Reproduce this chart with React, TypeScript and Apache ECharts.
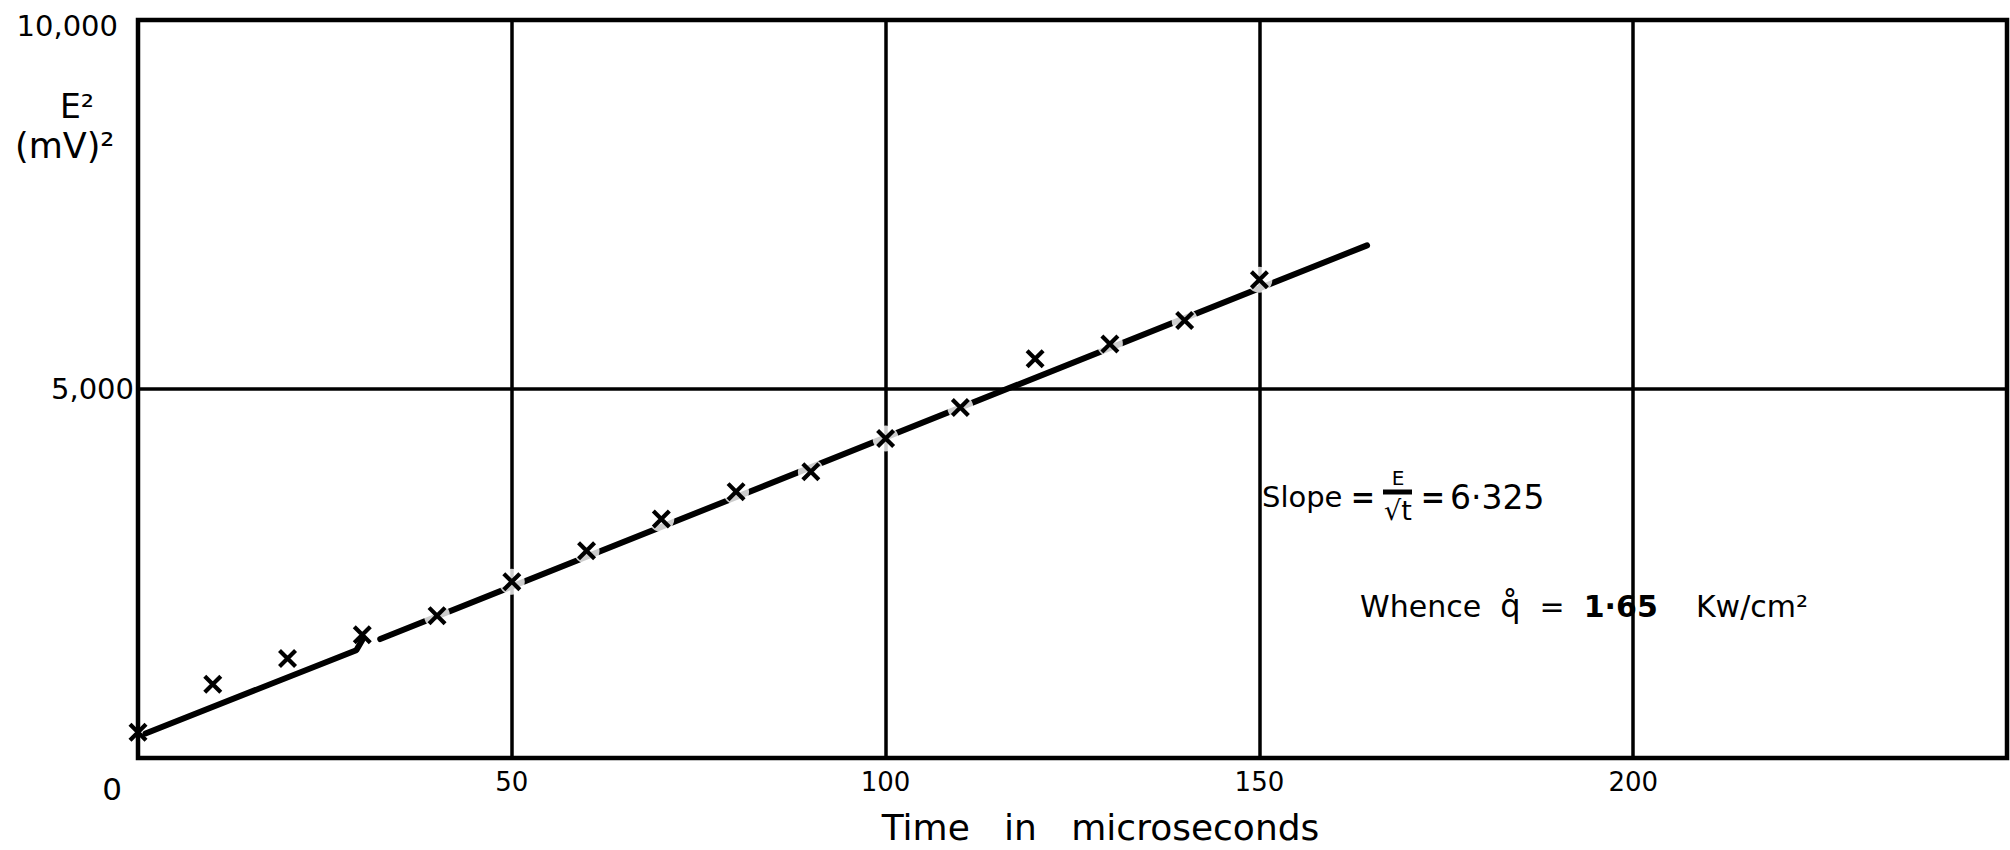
import React, { useEffect, useRef } from "react";
import * as echarts from "echarts";

// Measured points: time (microseconds) vs E^2 ((mV)^2)
const times = [0, 10, 20, 30, 40, 50, 60, 70, 80, 90, 100, 110, 120, 130, 140, 150];
const e2Values = [350, 1000, 1350, 1670, 1930, 2390, 2810, 3240, 3610, 3880, 4330, 4750, 5410, 5610, 5930, 6480];

// Hand-drawn fitted line (two pieces, as drawn)
const fitLowT = [1, 29.2, 30];
const fitLowE = [333, 1462, 1600];
const fitHighT = [32.4, 164.4];
const fitHighE = [1613, 6947];

// Axis ranges
const xMin = 0;
const xMax = 250;
const xStep = 50;
const yMin = 0;
const yMax = 10000;
const yStep = 5000;

const FONT = "DejaVu Sans";

const X_MARK = "path://M2.5,0L16,13.5L13.5,16L0,2.5ZM13.5,0L16,2.5L2.5,16L0,13.5Z";

export default function App() {
  const ref = useRef<HTMLDivElement>(null);

  useEffect(() => {
    if (!ref.current) return;
    const chart = echarts.init(ref.current, undefined, { renderer: "svg" });

    const points = times.map((t, i) => [t, e2Values[i]]);
    const haloPoints = points.filter((p) => p[0] >= 40);
    const lowLine = fitLowT.map((t, i) => [t, fitLowE[i]]);
    const highLine = fitHighT.map((t, i) => [t, fitHighE[i]]);

    chart.setOption({
      animation: false,
      backgroundColor: "#ffffff",
      textStyle: { fontFamily: FONT, color: "#000" },
      grid: {
        left: 138,
        right: 3,
        top: 20,
        bottom: 77,
        show: true,
        borderColor: "#000",
        borderWidth: 4.5,
        backgroundColor: "transparent",
      },
      xAxis: {
        type: "value",
        min: xMin,
        max: xMax,
        interval: xStep,
        axisLine: { show: false },
        axisTick: { show: false },
        splitLine: { show: true, lineStyle: { color: "#000", width: 3.5 } },
        axisLabel: {
          margin: 11,
          fontSize: 26,
          fontFamily: FONT,
          color: "#000",
          showMaxLabel: true,
          formatter: (v: number) => {
            if (v === 0) return "{z|0}";
            if (v === xMax) return "";
            return String(v);
          },
          rich: {
            z: { fontSize: 31, fontFamily: FONT, color: "#000", padding: [4, 52, 0, 0] },
          },
        },
        name: "Time   in   microseconds",
        nameLocation: "middle",
        nameGap: 41,
        nameTextStyle: { fontSize: 36, fontFamily: FONT, color: "#000", padding: [0, 0, 0, 56] },
      },
      yAxis: {
        type: "value",
        min: yMin,
        max: yMax,
        interval: yStep,
        axisLine: { show: false },
        axisTick: { show: false },
        splitLine: { show: true, lineStyle: { color: "#000", width: 3.5 } },
        axisLabel: {
          margin: 4,
          fontSize: 29,
          fontFamily: FONT,
          color: "#000",
          formatter: (v: number) => {
            if (v === 0) return "";
            const s = v.toLocaleString("en-US");
            if (v === yMax) return "{t|" + s + "}";
            return s;
          },
          rich: {
            t: { fontSize: 29, fontFamily: FONT, color: "#000", padding: [12, 16, 0, 0] },
          },
        },
      },
      graphic: [
        {
          type: "text",
          x: 60,
          y: 106,
          style: { text: "E²", fontSize: 33, fontFamily: FONT, fill: "#000", align: "left", verticalAlign: "middle" },
        },
        {
          type: "text",
          x: 15,
          y: 146,
          style: { text: "(mV)²", fontSize: 35, fontFamily: FONT, fill: "#000", align: "left", verticalAlign: "middle" },
        },
        {
          type: "group",
          children: [
            {
              type: "text",
              x: 1262,
              y: 497,
              style: { text: "Slope", fontSize: 29, fontFamily: FONT, fill: "#000", align: "left", verticalAlign: "middle" },
            },
            {
              type: "text",
              x: 1363,
              y: 497,
              style: { text: "=", fontSize: 29, fontFamily: FONT, fill: "#000", fontWeight: "bold", align: "center", verticalAlign: "middle" },
            },
            {
              type: "text",
              x: 1398,
              y: 478,
              style: { text: "E", fontSize: 20, fontFamily: FONT, fill: "#000", align: "center", verticalAlign: "middle" },
            },
            {
              type: "line",
              shape: { x1: 1383, y1: 492, x2: 1412, y2: 492 },
              style: { stroke: "#000", lineWidth: 5 },
            },
            {
              type: "text",
              x: 1398,
              y: 510,
              style: { text: "√t", fontSize: 27, fontFamily: FONT, fill: "#000", align: "center", verticalAlign: "middle" },
            },
            {
              type: "text",
              x: 1433,
              y: 497,
              style: { text: "=", fontSize: 29, fontFamily: FONT, fill: "#000", fontWeight: "bold", align: "center", verticalAlign: "middle" },
            },
            {
              type: "text",
              x: 1450,
              y: 497,
              style: { text: "6·325", fontSize: 33, fontFamily: FONT, fill: "#000", align: "left", verticalAlign: "middle" },
            },
          ],
        },
        {
          type: "text",
          x: 1360,
          y: 606,
          style: {
            text: "{n|Whence  }{q|q\u030A}{n|  =  }{b|1·65}{n|    Kw/cm²}",
            fontSize: 30,
            fontFamily: FONT,
            fill: "#000",
            align: "left",
            verticalAlign: "middle",
            rich: {
              n: { fontSize: 30, fontFamily: FONT, fill: "#000" },
              q: { fontSize: 32, fontFamily: FONT, fill: "#000" },
              b: { fontSize: 30, fontFamily: FONT, fill: "#000", fontWeight: "bold" },
            },
          },
        },
      ],
      series: [
        {
          type: "line",
          data: lowLine,
          symbol: "none",
          z: 2,
          lineStyle: { color: "#000", width: 6, cap: "round" },
        },
        {
          type: "line",
          data: highLine,
          symbol: "none",
          z: 2,
          lineStyle: { color: "#000", width: 6, cap: "round" },
        },
        {
          type: "scatter",
          data: haloPoints,
          symbol: "circle",
          symbolSize: 26,
          z: 3,
          itemStyle: { color: "#fff" },
        },
        {
          type: "scatter",
          data: points,
          symbol: X_MARK,
          symbolSize: 19,
          z: 4,
          itemStyle: { color: "#000", opacity: 1 },
        },
      ],
    });

    return () => chart.dispose();
  }, []);

  return (
    <div
      ref={ref}
      style={{ position: "fixed", left: 0, top: 0, width: 2010, height: 850, background: "#fff" }}
    />
  );
}
